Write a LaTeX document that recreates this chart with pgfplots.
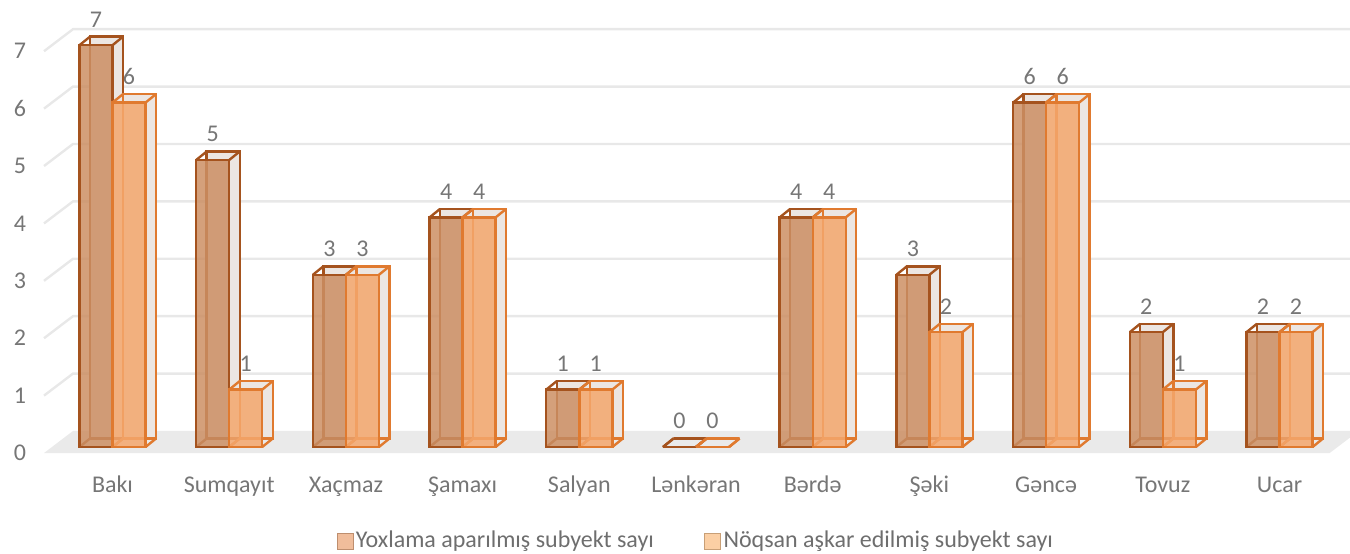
\documentclass[border=0pt]{standalone}
\usepackage{pgfplots}
\pgfplotsset{compat=1.18}
\usepackage{pgfplotstable}
\usepackage{fontspec}
\setmainfont{Carlito}
\definecolor{c1e}{HTML}{A5531E}
\definecolor{c2e}{HTML}{E07A2F}
\definecolor{c1f}{HTML}{CC8F64}
\definecolor{c2f}{HTML}{F4A76D}
\definecolor{c1l}{HTML}{EDB28A}
\definecolor{c2l}{HTML}{FAC794}
\definecolor{backf}{HTML}{ECE6E2}
\definecolor{floorc}{HTML}{EAEAEA}
\definecolor{gridc}{HTML}{E8E8E8}
\definecolor{tickgray}{HTML}{767676}
\definecolor{leggray}{HTML}{6E6E6E}
\pgfplotstableread{
x a b
0 7 6
1 5 1
2 3 3
3 4 4
4 1 1
5 0 0
6 4 4
7 3 2
8 6 6
9 2 1
10 2 2
}\data
\newcommand{\lf}{\fontsize{12}{14}\selectfont}
\begin{document}
\begin{tikzpicture}
\begin{axis}[
  anchor=origin, at={(0pt,0pt)},
  x=58.35pt, y=28.7pt,
  xmin=-0.587, xmax=10.43, ymin=-0.105, ymax=7.79,
  clip=false,
  axis line style={draw=none},
  major tick length=0pt,
  xtick={0,...,10},
  xticklabels={Bakı,Sumqayıt,Xaçmaz,Şamaxı,Salyan,Lənkəran,Bərdə,Şəki,Gəncə,Tovuz,Ucar},
  ytick={0,...,7},
  /pgf/number format/assume math mode=true,
  ticklabel style={font=\lf, text=tickgray},
  xticklabel style={anchor=base, yshift=-19.5pt},
  yticklabel style={anchor=center, xshift=-12pt, yshift=-3pt},
  legend style={at={(axis cs:5.0,-1.638)}, anchor=center, draw=none, fill=none,
    legend columns=2, font=\lf, text=leggray,
    nodes={inner sep=1.2pt},
    /tikz/every even column/.append style={column sep=24pt}},
  qv/.style={quiver={u=0.09,v=0.148}, -, forget plot, line width=1.2pt},
  nodes near coords style={font=\lf, text=tickgray, text opacity=1, fill opacity=1, anchor=south, yshift=5pt},
]
% floor
\fill[floorc] (axis cs:-0.587,-0.105) -- (axis cs:10.43,-0.105) -- (axis cs:10.6785,0.279) -- (axis cs:-0.3385,0.279) -- cycle;
% grid
\pgfplotsinvokeforeach{1,...,7}{
  \draw[gridc, line width=1.2pt] (axis cs:-0.587,#1-0.105) -- (axis cs:-0.3385,#1+0.279) -- (axis cs:10.7,#1+0.279);
}
% series 1
\addplot[ybar, bar width=0.283, bar shift=-0.0515, yshift=4.25pt, fill=backf, draw=c1e, line width=1.2pt, forget plot] table[x=x,y=a]{\data};
\addplot[qv, draw=c1e] table[x expr=\thisrow{x}-0.283, y=a]{\data};
\addplot[qv, draw=c1e] table[x expr=\thisrow{x}, y=a]{\data};
\addplot[qv, draw=c1e] table[x expr=\thisrow{x}-0.283, y expr=0]{\data};
\addplot[qv, draw=c1e] table[x expr=\thisrow{x}, y expr=0]{\data};
\addplot[ybar, bar width=0.283, bar shift=-0.1415, fill=c1f, fill opacity=0.85, draw=c1e, line width=1.2pt,
  nodes near coords, every node near coord/.append style={xshift=-8.26pt},
  legend image code/.code={\draw[fill=c1l, draw=c1l!80!black, line width=0.4pt] (0pt,-4pt) rectangle (8pt,4pt);}]
  table[x=x,y=a]{\data};
\addlegendentry{Yoxlama aparılmış subyekt sayı}
% series 2
\addplot[ybar, bar width=0.283, bar shift=0.2315, yshift=4.25pt, fill=backf, draw=c2e, line width=1.2pt, forget plot] table[x=x,y=b]{\data};
\addplot[qv, draw=c2e] table[x expr=\thisrow{x}, y=b]{\data};
\addplot[qv, draw=c2e] table[x expr=\thisrow{x}+0.283, y=b]{\data};
\addplot[qv, draw=c2e] table[x expr=\thisrow{x}, y expr=0]{\data};
\addplot[qv, draw=c2e] table[x expr=\thisrow{x}+0.283, y expr=0]{\data};
\addplot[ybar, bar width=0.283, bar shift=0.1415, fill=c2f, fill opacity=0.85, draw=c2e, line width=1.2pt,
  nodes near coords, every node near coord/.append style={xshift=8.26pt},
  legend image code/.code={\draw[fill=c2l, draw=c2l!80!black, line width=0.4pt] (0pt,-4pt) rectangle (8pt,4pt);}]
  table[x=x,y=b]{\data};
\addlegendentry{Nöqsan aşkar edilmiş subyekt sayı}
\end{axis}
\pgfresetboundingbox
\useasboundingbox (-56.25pt,-53pt) rectangle (618.75pt,223.5pt);
\end{tikzpicture}
\end{document}
